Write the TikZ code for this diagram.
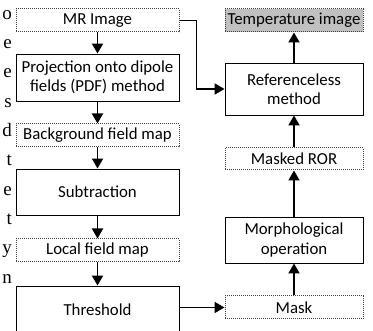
\documentclass[tikz,border=0pt]{standalone}
\usepackage{fontspec}
\setmainfont{Carlito}
\newfontfamily\serifside{Liberation Serif}
\usetikzlibrary{arrows.meta,positioning}
\definecolor{boxgray}{RGB}{192,192,192}
\tikzset{
  solidbox/.style={draw=black,line width=0.9pt,fill=white,align=center,inner sep=0pt,font=\fontsize{16.8}{19.5}\selectfont},
  dotbox/.style={draw=black!75,densely dotted,line width=1pt,fill=white,align=center,inner sep=0pt,font=\fontsize{16.8}{19.5}\selectfont},
  flow/.style={line width=1.8pt,-{Triangle[length=10pt,width=11pt]}},
  sideletter/.style={anchor=base east,inner sep=0pt,font=\serifside\fontsize{19}{19}\selectfont}
}
\begin{document}
\begin{tikzpicture}[x=1pt,y=-1pt]
\clip (0,0) rectangle (373,331);
% left column
\node[dotbox,minimum width=163pt,minimum height=23pt] (mr) at (97.5,20.5) {MR Image};
\node[solidbox,minimum width=163pt,minimum height=47pt] (pdf) at (97.5,77.5) {Projection onto dipole\\fields (PDF) method};
\node[dotbox,minimum width=163pt,minimum height=23pt] (bg) at (97.5,135.5) {Background field map};
\node[solidbox,minimum width=163pt,minimum height=46pt] (sub) at (97.5,192) {Subtraction};
\node[dotbox,minimum width=163pt,minimum height=23pt] (loc) at (97.5,250.5) {Local field map};
\node[solidbox,minimum width=163pt,minimum height=47pt] (thr) at (97.5,309.5) {Threshold};
% right column
\node[dotbox,fill=boxgray,minimum width=138pt,minimum height=23pt] (temp) at (294,20.5) {Temperature image};
\node[solidbox,minimum width=138pt,minimum height=52pt] (ref) at (294,89) {Referenceless\\method};
\node[dotbox,minimum width=138pt,minimum height=22pt] (mror) at (294,159) {Masked ROR};
\node[solidbox,minimum width=138pt,minimum height=46pt] (morph) at (294,240) {Morphological\\operation};
\node[dotbox,minimum width=138pt,minimum height=23pt] (mask) at (294,307.5) {Mask};
% connectors
\draw[flow] (mr) -- (pdf);
\draw[flow] (pdf) -- (bg);
\draw[flow] (bg) -- (sub);
\draw[flow] (sub) -- (loc);
\draw[flow] (loc) -- (thr);
\draw[flow] (mr.east) -- ++(17,0) |- (ref.west);
\draw[flow] (mask.west -| thr.east) -- (mask.west);
\draw[flow] (mask) -- (morph);
\draw[flow] (morph) -- (mror);
\draw[flow] (mror) -- (ref);
\draw[flow] (ref) -- (temp);
% side text fragments
\node[sideletter] (l1) at (12,19.5) {o};
\node[sideletter] (l2) at (12,48.5) {e};
\node[sideletter] (l3) at (12,78) {e};
\node[sideletter] (l4) at (12,107.5) {s};
\node[sideletter] (l5) at (12,136.5) {d};
\node[sideletter] (l6) at (12,166) {t};
\node[sideletter] (l7) at (12,195.5) {e};
\node[sideletter] (l8) at (12,224.5) {t};
\node[sideletter] (l9) at (12,254) {y};
\node[sideletter] (l10) at (12,283.5) {n};
\end{tikzpicture}
\end{document}
